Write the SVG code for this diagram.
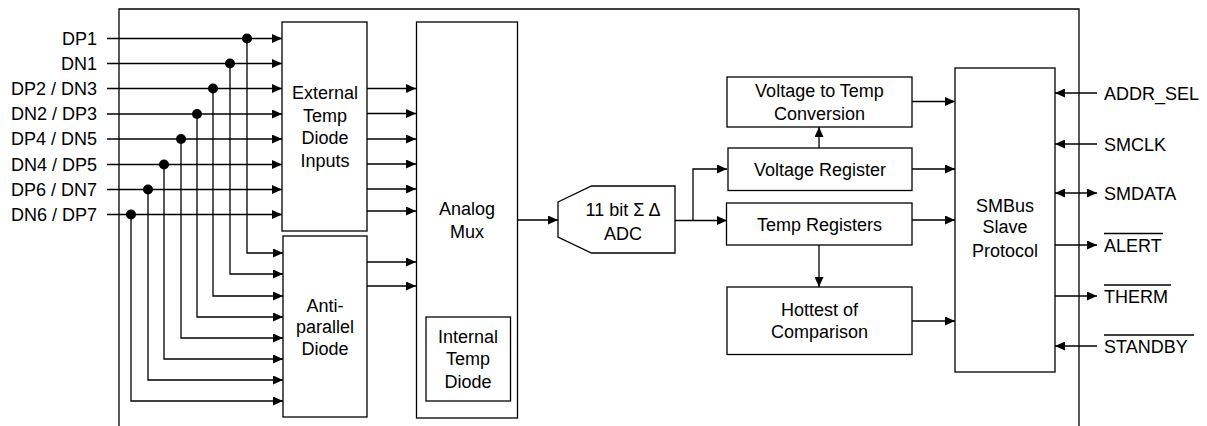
<svg xmlns="http://www.w3.org/2000/svg" width="1207" height="426" viewBox="0 0 1207 426">
<style>
.b{fill:#fff;stroke:#000;stroke-width:1.3}
.w{fill:none;stroke:#000;stroke-width:1.3}
.a{fill:none;stroke:#000;stroke-width:1.3;marker-end:url(#ah)}
text{font-family:"Liberation Sans",Arial,sans-serif;font-size:18px;fill:#000}
.c{text-anchor:middle}
.r{text-anchor:end}
</style>
<defs>
<marker id="ah" viewBox="0 0 10 9" refX="10" refY="4.5" markerWidth="10" markerHeight="9" markerUnits="userSpaceOnUse" orient="auto-start-reverse">
<path d="M0,0 L10,4.5 L0,9 z" fill="#000"/>
</marker>
</defs>
<rect width="1207" height="426" fill="#fff"/>
<path id="frame" class="w" d="M119,426 V9 H1079 V426"/>

<g id="connectors">
<line class="a" x1="107" y1="38.5" x2="282" y2="38.5"/>
<line class="a" x1="107" y1="63.5" x2="282" y2="63.5"/>
<line class="a" x1="107" y1="88.5" x2="282" y2="88.5"/>
<line class="a" x1="107" y1="114" x2="282" y2="114"/>
<line class="a" x1="107" y1="139" x2="282" y2="139"/>
<line class="a" x1="107" y1="164.5" x2="282" y2="164.5"/>
<line class="a" x1="107" y1="189.5" x2="282" y2="189.5"/>
<line class="a" x1="107" y1="214.5" x2="282" y2="214.5"/>
<polyline class="a" points="247,38.5 247,253 283,253"/>
<polyline class="a" points="230,63.5 230,274 283,274"/>
<polyline class="a" points="213,88.5 213,296 283,296"/>
<polyline class="a" points="197,114 197,317 283,317"/>
<polyline class="a" points="181,139 181,338 283,338"/>
<polyline class="a" points="164,164.5 164,359 283,359"/>
<polyline class="a" points="148,189.5 148,380 283,380"/>
<polyline class="a" points="131,214.5 131,401 283,401"/>
<g fill="#000">
<circle cx="247" cy="38.5" r="5"/>
<circle cx="230" cy="63.5" r="5"/>
<circle cx="213" cy="88.5" r="5"/>
<circle cx="197" cy="114" r="5"/>
<circle cx="181" cy="139" r="5"/>
<circle cx="164" cy="164.5" r="5"/>
<circle cx="148" cy="189.5" r="5"/>
<circle cx="131" cy="214.5" r="5"/>
</g>
<line class="a" x1="367" y1="88.5" x2="416" y2="88.5"/>
<line class="a" x1="367" y1="113.5" x2="416" y2="113.5"/>
<line class="a" x1="367" y1="139" x2="416" y2="139"/>
<line class="a" x1="367" y1="164" x2="416" y2="164"/>
<line class="a" x1="367" y1="189" x2="416" y2="189"/>
<line class="a" x1="367" y1="211" x2="416" y2="211"/>
<line class="a" x1="367" y1="262" x2="416" y2="262"/>
<line class="a" x1="367" y1="286" x2="416" y2="286"/>
<line class="a" x1="517" y1="220" x2="558" y2="220"/>
<line class="a" x1="675" y1="220.5" x2="727" y2="220.5"/>
<polyline class="a" points="693,220.5 693,169 727,169"/>
<line class="a" x1="819" y1="148" x2="819" y2="127"/>
<line class="a" x1="819" y1="245" x2="819" y2="287"/>
<line class="a" x1="912" y1="101.5" x2="955" y2="101.5"/>
<line class="a" x1="912" y1="169" x2="955" y2="169"/>
<line class="a" x1="912" y1="220" x2="955" y2="220"/>
<line class="a" x1="912" y1="321" x2="955" y2="321"/>
<line class="a" x1="1097" y1="93" x2="1055" y2="93"/>
<line class="a" x1="1097" y1="144" x2="1055" y2="144"/>
<line class="a" x1="1055" y1="193" x2="1097" y2="193" style="marker-start:url(#ah)"/>
<line class="a" x1="1055" y1="245" x2="1097" y2="245"/>
<line class="a" x1="1055" y1="296" x2="1097" y2="296"/>
<line class="a" x1="1097" y1="346" x2="1055" y2="346"/>
</g>

<g id="pins-left">
<text class="r" x="97" y="44.5">DP1</text>
<text class="r" x="97" y="69.5">DN1</text>
<text class="r" x="97" y="94.5">DP2 / DN3</text>
<text class="r" x="97" y="120">DN2 / DP3</text>
<text class="r" x="97" y="145">DP4 / DN5</text>
<text class="r" x="97" y="170.5">DN4 / DP5</text>
<text class="r" x="97" y="195.5">DP6 / DN7</text>
<text class="r" x="97" y="220.5">DN6 / DP7</text>
</g>

<g id="ext-diode">
<rect class="b" x="282" y="22" width="85" height="209"/>
<text class="c" x="325" y="99">External</text>
<text class="c" x="325" y="121.5">Temp</text>
<text class="c" x="325" y="144">Diode</text>
<text class="c" x="325" y="166.5">Inputs</text>
</g>

<g id="anti-parallel">
<rect class="b" x="283" y="236" width="84" height="181"/>
<text class="c" x="325" y="311.5">Anti-</text>
<text class="c" x="325" y="333">parallel</text>
<text class="c" x="325" y="354.5">Diode</text>
</g>

<g id="analog-mux">
<rect class="b" x="416.5" y="22" width="101" height="396"/>
<text class="c" x="467" y="214.5">Analog</text>
<text class="c" x="467" y="237.5">Mux</text>
</g>

<g id="internal-diode">
<rect class="b" x="426" y="317" width="84.5" height="84"/>
<text class="c" x="468" y="342.5">Internal</text>
<text class="c" x="468" y="365">Temp</text>
<text class="c" x="468" y="387.5">Diode</text>
</g>

<g id="adc">
<polygon class="b" points="558,202 591.5,186 675,186 675,253 591.5,253 558,237"/>
<text class="c" x="623" y="215.5">11 bit Σ Δ</text>
<text class="c" x="623" y="239.5">ADC</text>
</g>

<g id="v2t">
<rect class="b" x="727" y="77" width="185" height="50"/>
<text class="c" x="819.5" y="96.5">Voltage to Temp</text>
<text class="c" x="819.5" y="119.5">Conversion</text>
</g>

<g id="vreg">
<rect class="b" x="728" y="148" width="184" height="42.5"/>
<text class="c" x="820" y="175.5">Voltage Register</text>
</g>

<g id="treg">
<rect class="b" x="726.5" y="203" width="185.5" height="42"/>
<text class="c" x="819.5" y="230.5">Temp Registers</text>
</g>

<g id="hottest">
<rect class="b" x="727" y="287" width="185" height="67.5"/>
<text class="c" x="819.5" y="315.5">Hottest of</text>
<text class="c" x="819.5" y="338">Comparison</text>
</g>

<g id="smbus">
<rect class="b" x="955" y="68" width="100" height="304"/>
<text class="c" x="1005" y="211.5">SMBus</text>
<text class="c" x="1005" y="233">Slave</text>
<text class="c" x="1005" y="256.5">Protocol</text>
</g>

<g id="pins-right">
<text x="1104" y="99.5">ADDR_SEL</text>
<text x="1104" y="150.5">SMCLK</text>
<text x="1104" y="199.5">SMDATA</text>
<text x="1104" y="251.5">ALERT</text>
<line class="w" x1="1104" y1="233.5" x2="1163" y2="233.5"/>
<text x="1104" y="302.5">THERM</text>
<line class="w" x1="1104" y1="285" x2="1171" y2="285"/>
<text x="1104" y="352.5">STANDBY</text>
<line class="w" x1="1104" y1="335" x2="1194" y2="335"/>
</g>
</svg>
